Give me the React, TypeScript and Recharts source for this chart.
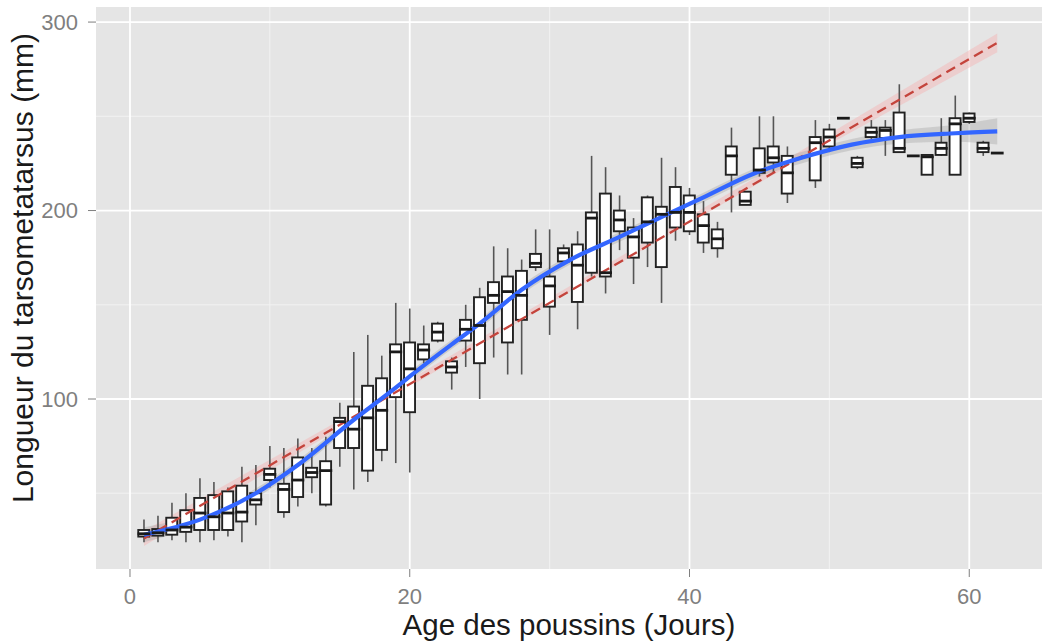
import React from 'react';
import { ComposedChart, XAxis, YAxis, CartesianGrid, Bar, Line, Area, Scatter } from 'recharts';

// ---- Boxplot data (per day) ----
const days = [1,2,3,4,5,6,7,8,9,10,11,12,13,14,15,16,17,18,19,20,21,22,23,24,25,26,27,28,29,30,31,32,33,34,35,36,37,38,39,40,41,42,43,44,45,46,47,49,50,51,52,53,54,55,56,57,58,59,60,61,62];
const whiskerLow = [24,24,25,24,24,25,27,24,33,53,37,43,50,43,64,52,56,67,66,61,119,130,105,117,100,122,113,113,168,134,171,137,165,156,179,161,170,151,184,187,177.5,175,199,203,218,220,204,212,231,249,222,238,229,231,229,219,229,219,246,229,230.5];
const q1 = [27,27.5,28,29.5,30.5,30.5,30.5,35,44,57,40,48,58.5,44,74,74,62,73,101,93,121,131,114,131,119,151,130,142,170,149,173,151.5,167,165,189,175,183,170,191,189,183,180,219,203,220,225.5,209,216,234,249,223,239,238.5,231,229,219,229.5,219,247,231,230.5];
const median = [28.5,29,30.5,32,39.5,37.5,39.5,40,46.5,60,52,57,61,62,88,84,90,94,125,116,126,135.5,117,137,139,155,157,155,172,160,177.5,171,196,167,195,186,194,198,199,199,192,185,229,205,221.5,228,220,236,239,249,225,241.5,242.5,233,229,228.5,233,246,249,233,230.5];
const q3 = [30.5,31,37,41,47.5,49,51,54,50,63,55,69,63.5,67,90,96,107,111,129,130,129,140,120,142,154,162,165,168,177,165,180,182,199,209,200,191,207,202,212.5,208,198,190,234,210,233,234,229,239,243,249,228,244,244,252,229,229.5,236,249,251.5,236,230.5];
const whiskerHigh = [36,38,45,50,58,56,53,64,65,75,74,79,74,80,98,125,134,123,151,148,139,141,122,150,159,181,180,174,190,190,182,189,229,223,208,196,208,228,223,212,205,194,244,210,250,250,234,248,246,249,229,248,248,267,229,230,249,261,252,237,230.5];

// ---- Loess smooth (blue) ----
const loessDays = [1,5,9,12,16,19,20,23,25,28,31.5,35,38.7,41,44.4,48,51.6,55,59,62];
const loessValues = [28,36,50,65,89,106,112,129,140,158,174,186,199,207,219,228,235,239,241,242];
const loessBandHalf = [4,3,2.5,2.5,2.5,2.5,2.5,2.5,2.5,2.5,2.5,2.5,2.5,2.5,2.5,3,3,3.5,4.5,7];

// ---- Linear fit (red dashed) ----
const linearDays = [1, 62];
const linearValues = [26, 289];
const linearBandDays = [1, 16, 31, 46, 62];
const linearBandLow = [22, 89, 155, 219, 284];
const linearBandHigh = [30, 93, 158, 223, 294];

// ---- Axis ticks ----
const xTicks = [0, 20, 40, 60];
const yTicks = [100, 200, 300];
const xMinor = [10, 30, 50];
const yMinor = [50, 150, 250];

const boxRows = days.map((d, i) => ({
  day: d,
  whisker: [whiskerLow[i], whiskerHigh[i]],
  box: [q1[i], q3[i]],
  median: median[i],
}));
const loessRows = loessDays.map((d, i) => ({ day: d, v: loessValues[i] }));
const loessBandRows = loessDays.map((d, i) => ({
  day: d,
  band: [loessValues[i] - loessBandHalf[i], loessValues[i] + loessBandHalf[i]],
}));
const linearRows = linearDays.map((d, i) => ({ day: d, v: linearValues[i] }));
const linearBandRows = linearBandDays.map((d, i) => ({ day: d, band: [linearBandLow[i], linearBandHigh[i]] }));

const FONT = '"Liberation Sans", Arial, Helvetica, sans-serif';
const X_DOMAIN: [number, number] = [-2.43, 65.2];
const Y_DOMAIN: [number, number] = [9.8, 308];
const BOX_W = 11;

const num = (v: any) => (typeof v === 'number' && isFinite(v) ? v : 0);

const WhiskerShape = (props: any) => {
  const x = num(props.x), w = num(props.width), y = num(props.y), h = num(props.height);
  const cx = x + w / 2;
  const top = Math.min(y, y + h), bot = Math.max(y, y + h);
  return <line x1={cx} x2={cx} y1={top} y2={bot} stroke="#555555" strokeWidth={1.6} />;
};

const BoxShape = (props: any) => {
  const x = num(props.x), w = num(props.width), y = num(props.y), h = num(props.height);
  const cx = x + w / 2;
  const top = Math.min(y, y + h), hh = Math.abs(h);
  if (hh < 0.5) return <g />;
  return <rect x={cx - BOX_W / 2} y={top} width={BOX_W} height={hh} fill="#FFFFFF" stroke="#222222" strokeWidth={1.9} />;
};

const MedianMark = (props: any) => {
  const { cx, cy } = props;
  if (cx == null || cy == null) return null;
  return <line x1={cx - BOX_W / 2 - 0.9} x2={cx + BOX_W / 2 + 0.9} y1={cy} y2={cy} stroke="#1a1a1a" strokeWidth={2.8} />;
};

export default function App() {
  return (
    <div style={{ position: 'absolute', left: 0, top: 0, width: 1042, height: 641, background: '#fff', fontFamily: FONT }}>
      <ComposedChart
        width={1042}
        height={641}
        data={boxRows}
        margin={{ top: 7, right: 0, bottom: 0, left: 0 }}
      >
        <CartesianGrid
          fill="#E5E5E5"
          stroke="#F2F2F2"
          strokeWidth={1}
          horizontalValues={yMinor}
          verticalValues={xMinor}
        />
        <CartesianGrid
          stroke="#FFFFFF"
          strokeWidth={1.8}
          horizontalValues={yTicks}
          verticalValues={xTicks}
        />
        <XAxis
          type="number"
          dataKey="day"
          domain={X_DOMAIN}
          allowDataOverflow
          ticks={xTicks}
          axisLine={false}
          tickLine={{ stroke: '#7F7F7F', strokeWidth: 1 }}
          tickSize={8}
          tickMargin={11}
          tick={{ fill: '#7F7F7F', fontSize: 22, fontFamily: FONT }}
          height={72}
        />
        <XAxis xAxisId="w" type="number" dataKey="day" domain={X_DOMAIN} allowDataOverflow hide />
        <YAxis
          type="number"
          domain={Y_DOMAIN}
          allowDataOverflow
          ticks={yTicks}
          axisLine={false}
          tickLine={{ stroke: '#7F7F7F', strokeWidth: 1 }}
          tickSize={8}
          tickMargin={10}
          tick={{ fill: '#7F7F7F', fontSize: 22, fontFamily: FONT }}
          width={96}
        />
        <YAxis yAxisId="w" type="number" domain={Y_DOMAIN} allowDataOverflow hide />
        <Area
          data={linearBandRows}
          dataKey="band"
          type="linear"
          fill="#F4B8B8"
          fillOpacity={0.5}
          stroke="none"
          isAnimationActive={false}
        />
        <Area
          data={loessBandRows}
          dataKey="band"
          type="monotone"
          fill="#A8A8A8"
          fillOpacity={0.4}
          stroke="none"
          isAnimationActive={false}
        />
        <Bar
          xAxisId="w"
          yAxisId="w"
          dataKey="whisker"
          barSize={2}
          shape={WhiskerShape}
          isAnimationActive={false}
        />
        <Bar
          dataKey="box"
          barSize={BOX_W}
          shape={BoxShape}
          isAnimationActive={false}
        />
        <Scatter dataKey="median" shape={MedianMark} isAnimationActive={false} />
        <Line
          data={linearRows}
          dataKey="v"
          type="linear"
          stroke="#C4443C"
          strokeWidth={2.3}
          strokeDasharray="10 6"
          dot={false}
          activeDot={false}
          isAnimationActive={false}
        />
        <Line
          data={loessRows}
          dataKey="v"
          type="monotone"
          stroke="#3366FF"
          strokeWidth={4.2}
          dot={false}
          activeDot={false}
          isAnimationActive={false}
        />
      </ComposedChart>
      <div
        style={{
          position: 'absolute',
          left: 369,
          top: 610,
          width: 400,
          textAlign: 'center',
          fontSize: 29.5,
          lineHeight: '30px',
          color: '#1a1a1a',
          whiteSpace: 'nowrap',
        }}
      >
        Age des poussins (Jours)
      </div>
      <div
        style={{
          position: 'absolute',
          left: 22.6 - 300,
          top: 268 - 15,
          width: 600,
          height: 30,
          textAlign: 'center',
          fontSize: 30,
          lineHeight: '30px',
          color: '#1a1a1a',
          whiteSpace: 'nowrap',
          transform: 'rotate(-90deg)',
          transformOrigin: '50% 50%',
        }}
      >
        Longueur du tarsometatarsus (mm)
      </div>
    </div>
  );
}
